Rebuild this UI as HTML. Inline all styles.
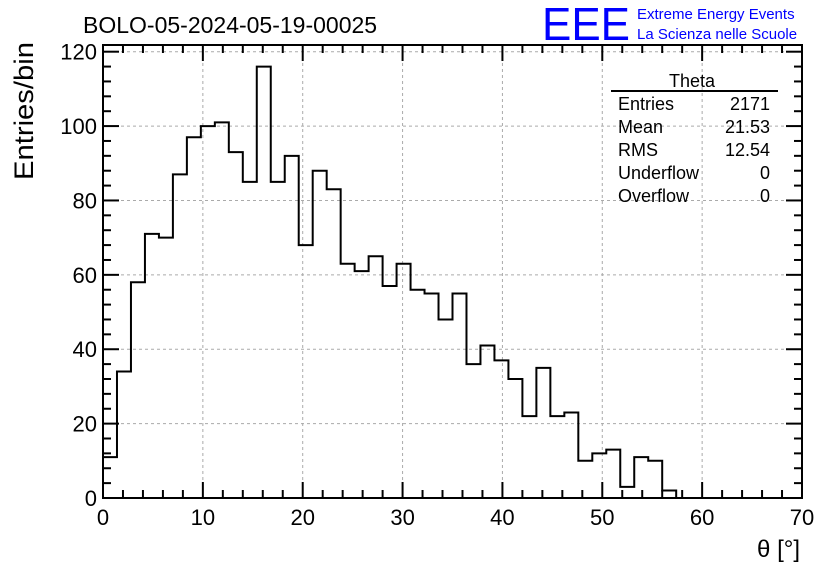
<!DOCTYPE html>
<html><head><meta charset="utf-8"><style>
body{margin:0;background:#fff}
svg{display:block;font-family:"Liberation Sans",sans-serif}
</style></head><body>
<svg id="c" width="836" height="572">
<text x="83" y="33" font-size="23">BOLO-05-2024-05-19-00025</text>
<text x="542" y="40" font-size="46" fill="#0000ff" textLength="88" lengthAdjust="spacingAndGlyphs">EEE</text>
<text x="637" y="19" font-size="15" fill="#0000ff">Extreme Energy Events</text>
<text x="637" y="39" font-size="15" fill="#0000ff">La Scienza nelle Scuole</text>
<g id="grid"></g><g id="hist"></g><g id="axes"></g>
<g font-size="18">
<text x="692" y="87" text-anchor="middle">Theta</text>
<line x1="611" y1="91" x2="778" y2="91" stroke="#000" stroke-width="2"/>
<text x="618" y="110">Entries</text><text x="770" y="110" text-anchor="end">2171</text>
<text x="618" y="133">Mean</text><text x="770" y="133" text-anchor="end">21.53</text>
<text x="618" y="156">RMS</text><text x="770" y="156" text-anchor="end">12.54</text>
<text x="618" y="179">Underflow</text><text x="770" y="179" text-anchor="end">0</text>
<text x="618" y="202">Overflow</text><text x="770" y="202" text-anchor="end">0</text>
</g>
<text x="800" y="557" font-size="24" text-anchor="end">θ [°]</text>
<text transform="translate(33,180) rotate(-90)" font-size="27" text-anchor="start" textLength="138" lengthAdjust="spacingAndGlyphs">Entries/bin</text>
</svg>
<script>
const counts=[11,34,58,71,70,87,97,100,101,93,85,116,85,92,68,88,83,63,61,65,57,63,56,55,48,55,36,41,37,32,22,35,22,23,10,12,13,3,11,10,2,0,0,0,0,0,0,0,0,0];
const binWidth=1.4;
const xTicks=[0,10,20,30,40,50,60,70];
const yTicks=[0,20,40,60,80,100,120];
const L=103,R=802,T=45,B=498,XMAX=70,YMAX=121.8;
const X=v=>L+v/XMAX*(R-L), Y=v=>B-v/YMAX*(B-T);
const NS="http://www.w3.org/2000/svg";
function mk(t,a,p){const e=document.createElementNS(NS,t);for(const k in a)e.setAttribute(k,a[k]);p.appendChild(e);return e;}
const grid=document.getElementById('grid'),hist=document.getElementById('hist'),axes=document.getElementById('axes');
xTicks.forEach(v=>{if(v>0&&v<XMAX){const l=mk('line',{x1:X(v),x2:X(v),y1:T,y2:B,stroke:'#aaa','stroke-dasharray':'3,3'},grid);

}});
yTicks.forEach(v=>{if(v>0){const l=mk('line',{x1:L,x2:R,y1:Y(v),y2:Y(v),stroke:'#aaa','stroke-dasharray':'3,3'},grid);

}});
let d=`M${X(0)},${Y(0)}`;
counts.forEach((c,i)=>{d+=` L${X(i*binWidth)},${Y(c)} L${X((i+1)*binWidth)},${Y(c)}`;});
const p=mk('path',{d:d,fill:'none',stroke:'#000','stroke-width':2},hist);


const fr=mk('rect',{x:L,y:T,width:R-L,height:B-T,fill:'none',stroke:'#000','stroke-width':2},axes);


for(let v=0;v<=XMAX;v+=2){const maj=v%10===0,len=maj?16:8;
mk('line',{x1:X(v),x2:X(v),y1:B,y2:B-len,stroke:'#000','stroke-width':2},axes);
mk('line',{x1:X(v),x2:X(v),y1:T,y2:T+len,stroke:'#000','stroke-width':2},axes);}
for(let v=0;v<=120;v+=4){const maj=v%20===0,len=maj?16:8;
mk('line',{x1:L,x2:L+len,y1:Y(v),y2:Y(v),stroke:'#000','stroke-width':2},axes);
mk('line',{x1:R,x2:R-len,y1:Y(v),y2:Y(v),stroke:'#000','stroke-width':2},axes);}
xTicks.forEach(v=>{const t=mk('text',{x:X(v),y:525,'font-size':22,'text-anchor':'middle'},axes);t.textContent=v;

});
yTicks.forEach(v=>{const t=mk('text',{x:97,y:Y(v)+8,'font-size':22,'text-anchor':'end'},axes);t.textContent=v;

});
</script>
</body></html>
